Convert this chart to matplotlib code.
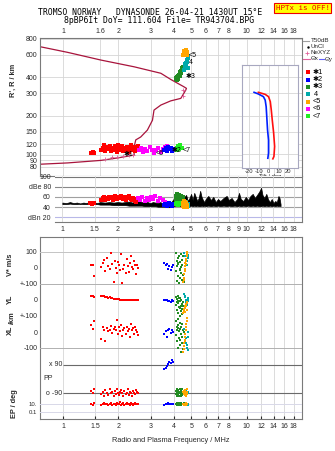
import matplotlib
matplotlib.use('Agg')
import matplotlib.pyplot as plt
from matplotlib.ticker import NullLocator

plt.rcParams['font.family'] = ['Liberation Sans', 'DejaVu Sans']
plt.rcParams['font.size'] = 5

# ---- data ----
freq_ticks_top = [1, 1.6, 2, 3, 4, 5, 6, 7, 8, 10, 12, 14, 16, 18]
freq_ticks_mid = [1, 1.5, 2, 3, 4, 5, 6, 7, 8, 9, 10, 12, 14, 16, 18]
freq_ticks_bot = [1, 1.5, 2, 3, 4, 5, 6, 7, 8, 10, 12, 14, 16, 18]
height_ticks = [80, 90, 100, 120, 150, 200, 300, 400, 600, 800]

# real height / plasma frequency profile (with topside)
prof_f = [0.75, 1.06, 1.61, 1.98, 2.44, 2.44, 2.49, 2.65, 2.88, 3.07, 3.13, 3.41, 3.86,
          4.38, 4.66, 4.70, 4.56, 3.86, 3.41, 2.44, 1.61, 1.06, 0.75]
prof_h = [84, 86, 90, 94, 99, 115, 130, 137, 155, 185, 222, 243, 262,
          274, 318, 328, 337, 385, 430, 483, 545, 626, 693]
nexyz_f = [1.70, 1.85, 1.98, 2.12, 2.28, 2.40, 4.48, 4.52]
nexyz_h = [93, 95, 96, 97, 99, 100, 318, 285]

# echo 1 (red)
r_f = [1.42, 1.45, 1.48, 1.62, 1.66, 1.68, 1.70, 1.73, 1.76, 1.80, 1.83, 1.86, 1.89, 1.92, 1.95, 1.98, 2.00, 2.01,
       2.04, 2.07, 2.10, 2.13, 2.16, 2.19, 2.22, 2.25, 2.28, 2.31, 2.34, 2.37, 2.40, 2.43, 2.46, 2.49, 2.52, 2.55]
r_h = [103, 105, 102, 108, 112, 118, 106, 115, 110, 117, 107, 113, 109, 116, 111, 105, 119, 108,
       114, 110, 117, 106, 112, 109, 115, 111, 104, 113, 118, 108, 110, 114, 106, 112, 109, 116]
r_db = [48, 47, 49, 55, 57, 59, 54, 58, 56, 60, 57, 59, 55, 61, 58, 56, 60, 57,
        59, 62, 58, 56, 60, 57, 55, 59, 58, 61, 57, 56, 54, 58, 55, 52, 50, 56]
r_v = [15, 20, -50, 5, 30, 50, -20, 60, 10, -10, 90, 25, -85, 45, 0, -30, 35, 15,
       -15, 85, -95, -5, 20, -35, 55, 10, -25, 30, 70, 5, -10, 45, 15, -40, 20, 0]
r_yl = [22, 25, 20, 28, 24, 22, 20, 18, 15, 16, 12, 10, 9, 8, 6, 5, 4, 4,
        3, 2, 1, 0, -1, 0, -2, -1, 0, -3, -2, -1, 0, -2, -3, -1, -2, 0]
r_xl = [45, 20, 70, -45, 30, 10, -60, 25, 5, 15, 40, -5, 20, 35, 10, 75, -15, 30,
        5, 45, -25, 15, 25, -10, 35, 5, 20, -30, 50, 10, 25, -15, 30, 15, 0, -20]
r_pp = [-80, -95, -70, -100, -85, -110, -75, -90, -105, -65, -95, -85, -115, -80, -100, -70, -90, -105,
        -85, -75, -95, -110, -80, -100, -90, -70, -105, -85, -95, -115, -80, -90, -100, -75, -85, -95]
r_ep = [12, 8, 15, 6, 10, 20, 9, 14, 7, 11, 25, 8, 13, 10, 6, 18, 9, 12,
        30, 8, 11, 15, 7, 10, 22, 9, 13, 8, 16, 10, 6, 12, 19, 9, 11, 14]

# echo 2 (blue)
b_f = [3.55, 3.62, 3.68, 3.74, 3.80, 3.86, 3.92, 3.98]
b_h = [108, 112, 106, 115, 110, 113, 107, 111]
b_db = [44, 46, 43, 45, 48, 44, 42, 46]
b_v = [30, 15, 25, -5, 10, -15, 5, 20]
b_yl = [2, -3, 0, -8, -5, -12, -2, -6]
b_xl = [-10, 5, -30, 15, 20, -5, 10, 0]
b_pp = [60, 70, 85, 95, 110, 100, 120, 105]
b_ep = [8, 12, 10, 15, 9, 11, 14, 10]

# echo 3 (green)
g_f = [4.12, 4.14, 4.15, 4.17, 4.19, 4.21, 4.23, 4.25, 4.27, 4.29, 4.31, 4.33,
       4.35, 4.37, 4.39, 4.41, 4.43, 4.45, 4.47, 4.49, 4.51, 4.53, 4.22, 4.33]
g_h = [385, 392, 380, 400, 395, 410, 388, 405, 420, 415, 430, 425,
       440, 435, 450, 445, 460, 455, 470, 465, 480, 475, 398, 412]
g_db = [48, 55, 62, 50, 58, 65, 52, 60, 47, 56, 63, 50, 58, 46, 54, 61, 49, 57, 52, 60, 48, 55, 64, 51]
g_v = [90, -20, 40, -80, 10, 60, -50, 25, -95, 75, -10, 35, -60, 5, 85, -35, 50, -75, 15, -45, 70, -90, 30, -15]
g_yl = [20, -30, 5, -60, -10, 25, -80, -20, 10, -45, -5, -100, 15, -35, -70, 0, -55, -25, -90, -15, -40, -65, -8, -50]
g_xl = [70, -20, 30, -60, 10, 80, -100, 45, -40, 5, 60, -80, 20, -130, 35, -10, -70, 50, -30, 15, -110, 0, 25, -50]
g_pp = [-80, -100, -70, -95, -110, -85, -75, -105, -90, -115, -65, -95, -85, -100, -80, -110, -90, -70, -105, -95, -85, -100, -75, -90]
g_ep = [10, 14, 8, 12, 20, 9, 11, 16, 7, 13, 10, 18, 9, 12, 15, 8, 11, 10, 14, 9, 12, 17, 10, 8]

# echo 4 (cyan)
c_f = [4.58, 4.62, 4.66, 4.70, 4.74, 4.78, 4.82, 4.64, 4.72, 4.80]
c_h = [460, 480, 500, 520, 545, 565, 585, 510, 530, 475]
c_db = [45, 48, 44, 50, 46, 43, 47, 49, 45, 44]
c_v = [90, 70, 55, 40, 20, 60, 80, 30, 45, 65]
c_yl = [40, 20, 0, -15, -30, 10, -5, 25, -20, 5]
c_xl = [20, -10, -40, -70, -100, -115, -30, -60, -85, 0]
c_pp = [-88, -95, -80, -100, -90, -85, -92, -78, -96, -86]
c_ep = [10, 12, 9, 14, 11, 8, 13, 10, 12, 9]

# echo 5 (orange)
o_f = [4.50, 4.53, 4.55, 4.57, 4.59, 4.61, 4.63, 4.65, 4.67, 4.69, 4.71, 4.73, 4.75, 4.60]
o_h = [600, 615, 630, 645, 620, 605, 640, 625, 650, 610, 598, 635, 612, 628]
o_db = [42, 48, 45, 52, 40, 47, 44, 50, 43, 46, 49, 41, 45, 51]
o_v = [-90, -75, -60, -40, -20, -5, 10, 25, 40, 55, 70, 85, 100, 30]
o_yl = [-80, -70, -65, -55, -50, -45, -40, -35, -30, -25, -20, -60, -15, -75]
o_xl = [-125, -110, -90, -70, -50, -30, -10, 10, 30, 50, 70, 90, 110, -60]
o_pp = [-85, -95, -80, -100, -90, -75, -105, -88, -92, -110, -70, -98, -84, -95]
o_ep = [10, 12, 8, 14, 11, 9, 13, 10, 15, 8, 12, 10, 9, 11]

# echo 6 (magenta) and 7 (lime) - height / amplitude only
m_f = [2.58, 2.65, 2.72, 2.80, 2.88, 2.96, 3.04, 3.12, 3.20, 3.30, 3.40, 3.50, 3.60, 3.70]
m_h = [108, 112, 104, 110, 106, 114, 108, 103, 109, 112, 105, 110, 114, 116]
m_db = [58, 55, 60, 52, 57, 54, 59, 56, 61, 53, 58, 55, 50, 48]
l_f = [4.15, 4.20, 4.25, 4.30, 4.36, 4.42]
l_h = [108, 113, 116, 110, 118, 112]
l_db = [46, 48, 45, 47, 49, 46]

# receiver amplitude / noise trace (dB)
noise_f = [1.00, 1.05, 1.10, 1.15, 1.20, 1.25, 1.30, 1.35, 1.40, 1.45, 1.50, 1.55, 1.60, 1.70, 1.80, 1.90, 2.00, 2.10,
           2.20, 2.30, 2.40, 2.50, 2.60, 2.70, 2.80, 2.90, 3.00, 3.10, 3.20, 3.30, 3.40, 3.50, 3.60, 3.70, 3.80, 3.90,
           4.00, 4.10, 4.20, 4.30, 4.40, 4.50, 4.60, 4.70, 4.80, 4.90, 5.00, 5.10, 5.20, 5.30, 5.40, 5.50, 5.60, 5.70,
           5.80, 5.90, 6.00, 6.20, 6.40, 6.60, 6.80, 7.00, 7.20, 7.50, 7.80, 8.00, 8.30, 8.60, 8.90, 9.10, 9.30, 9.60,
           9.90, 10.2, 10.5, 10.8, 11.1, 11.4, 11.7, 12.0, 12.2, 12.5, 12.8, 13.1, 13.4, 13.7, 14.0, 14.3, 14.6, 14.9,
           15.1, 15.3]
noise_top = [49, 48, 50, 48, 49, 47, 49, 48, 50, 48, 49, 48, 50, 49, 50, 49, 50, 49,
             50, 51, 49, 50, 52, 50, 49, 50, 48, 50, 49, 48, 50, 47, 48, 46, 47, 50,
             55, 62, 66, 52, 58, 50, 60, 64, 52, 58, 66, 54, 68, 60, 52, 58, 72, 60,
             54, 50, 56, 62, 54, 60, 50, 56, 52, 58, 62, 54, 58, 50, 56, 68, 56, 52,
             60, 54, 62, 66, 58, 64, 70, 78, 64, 58, 66, 55, 50, 56, 48, 52, 50, 62,
             58, 46]
noise_low = [46, 46, 47, 46, 46, 47, 46, 46, 47, 46, 46, 46, 45, 45, 45, 44, 44, 44,
             44, 43, 43, 43, 43, 43, 42, 42, 42, 42, 42, 41, 41, 41, 41, 40, 40, 41,
             42, 43, 42, 43, 42, 43, 42, 42, 43, 42, 43, 42, 43, 42, 43, 42, 42, 43,
             42, 43, 42, 43, 42, 43, 42, 43, 42, 43, 42, 43, 42, 43, 42, 43, 42, 43,
             42, 43, 42, 43, 42, 43, 42, 42, 43, 42, 43, 42, 43, 42, 43, 42, 43, 42,
             43, 42]

# tilt inset
tiltx_deg = [-10.3, -3.4, 0, 1.8, 2.8, 3.8, 5.2, 6.2, 5.5, 4.4]
tiltx_h = [305, 294, 282, 258, 222, 185, 147, 115, 96, 92]
tilty_deg = [-14.7, -10.3, -5.2, -3.4, -2.4, -1.8, -1.0, 0, 0, -0.7]
tilty_h = [305, 296, 282, 265, 235, 197, 155, 129, 102, 93]

COL = {1: '#ff0000', 2: '#0000ff', 3: '#228b22', 4: '#00aaaa',
       5: '#ffa500', 6: '#ff00ff', 7: '#22ee22'}
GRID = '#d6d6d6'
SPINE = '#7a7a7a'
TXT = '#2a2a2a'
PROF = '#a8143c'

W, H = 335, 451


def box(x0, y0, x1, y1):
    return [x0 / W, 1 - y1 / H, (x1 - x0) / W, (y1 - y0) / H]


def freq_axis(ax, lo=0.75):
    ax.set_xscale('log')
    ax.set_xlim(lo, 20)
    ax.xaxis.set_minor_locator(NullLocator())
    for s in ax.spines.values():
        s.set_color(SPINE)
        s.set_linewidth(0.8)


def dots(ax, x, y, c, ms=1.9):
    ax.plot(x, y, 's', color=c, ms=ms, mew=0, ls='none')


fig = plt.figure(figsize=(W / 100, H / 100), dpi=100)

# ---- height panel ----
ax_h = fig.add_axes(box(40, 38, 302, 176))
freq_axis(ax_h)
ax_h.set_yscale('log')
ax_h.set_ylim(68, 810)
ax_h.yaxis.set_minor_locator(NullLocator())
ax_h.set_yticks(height_ticks)
ax_h.set_yticklabels([str(t) for t in height_ticks])
ax_h.xaxis.tick_top()
ax_h.set_xticks(freq_ticks_top)
ax_h.set_xticklabels([f'{t:g}' for t in freq_ticks_top])
ax_h.tick_params(length=0, pad=2, labelsize=5, colors=TXT)
ax_h.grid(True, color=GRID, lw=0.6)
ax_h.set_axisbelow(True)
ax_h.plot(prof_f, prof_h, color=PROF, lw=0.9)
ax_h.plot(nexyz_f, nexyz_h, '+', color='#e0609a', ms=2.5, mew=0.6)
dots(ax_h, r_f, r_h, COL[1], 2.2)
dots(ax_h, m_f, m_h, COL[6], 2.2)
dots(ax_h, b_f, b_h, COL[2], 2.2)
dots(ax_h, l_f, l_h, COL[7], 2.2)
dots(ax_h, g_f, g_h, COL[3], 2.6)
dots(ax_h, c_f, c_h, COL[4], 2.4)
dots(ax_h, o_f, o_h, COL[5], 2.6)
for txt, f, h in [('✱1', 2.14, 100), ('<6', 3.2, 101), ('✱2', 3.9, 107), ('<7', 4.5, 107),
                  ('✱3', 4.66, 409), ('4', 4.85, 520), ('<5', 4.85, 595)]:
    ax_h.text(f, h, txt, fontsize=5, ha='left', va='center', color='k')

# tilt inset
ax_t = fig.add_axes(box(242, 65, 298, 168))
ax_t.set_yscale('log')
ax_t.set_ylim(78, 499)
ax_t.set_xlim(-27, 30)
ax_t.yaxis.set_minor_locator(NullLocator())
ax_t.set_yticks([100, 150, 200, 300, 400])
ax_t.set_yticklabels([])
ax_t.set_xticks([-20, -10, 0, 10, 20])
ax_t.set_xticklabels(['-20', '-10', '0', '10', '20'])
ax_t.tick_params(length=0, pad=1, labelsize=4.2, colors=TXT)
ax_t.set_xlabel('Tilt / deg', fontsize=4.2, labelpad=0, color=TXT)
ax_t.grid(True, color=GRID, lw=0.6)
for s in ax_t.spines.values():
    s.set_color('#a8a8c0')
ax_t.plot(tilty_deg, tilty_h, color='#0020ff', lw=1.2)
ax_t.plot(tiltx_deg, tiltx_h, color='#ff1010', lw=1.2)

# ---- amplitude panel ----
ax_db = fig.add_axes(box(55, 176, 302, 222))
freq_axis(ax_db, 0.912)
ax_db.set_ylim(11, 101)
ax_db.spines['left'].set_visible(False)
ax_db.spines['top'].set_visible(False)
ax_db.set_yticks([100, 80, 60, 40, 20])
ax_db.set_yticklabels(['100', 'dBe 80', '60', '40', 'dBn 20'])
ax_db.set_xticks(freq_ticks_mid)
ax_db.set_xticklabels([f'{t:g}' for t in freq_ticks_mid])
ax_db.tick_params(length=0, pad=3, labelsize=5, colors=TXT)
ax_db.grid(True, axis='x', color=GRID, lw=0.6)
for lvl, c in [(100, '#777777'), (80, '#888888'), (60, '#a0a0a0'), (40, '#a0a0a0'), (20, '#b8b8e8')]:
    ax_db.axhline(lvl, color=c, lw=0.8, zorder=1)
ax_db.fill_between(noise_f, noise_low, noise_top, color='k', lw=0.5, zorder=2)
for fx, dy, k in [(r_f, r_db, 1), (m_f, m_db, 6), (b_f, b_db, 2), (g_f, g_db, 3),
                  (l_f, l_db, 7), (c_f, c_db, 4), (o_f, o_db, 5)]:
    ax_db.plot(fx, dy, 's', color=COL[k], ms=2.2, mew=0, zorder=3)

# ---- doppler / location / polarisation frame ----
ax_low = fig.add_axes(box(40, 237, 302, 419))
freq_axis(ax_low)
ax_low.set_ylim(0, 1)
ax_low.set_yticks([])
ax_low.set_xticks(freq_ticks_bot)
ax_low.set_xticklabels([f'{t:g}' for t in freq_ticks_bot])
ax_low.tick_params(axis='x', direction='in', length=2, pad=3, labelsize=5, colors=TXT)
ax_low.grid(True, axis='x', color=GRID, lw=0.6)
ax_low.set_xlabel('Radio and Plasma Frequency / MHz', fontsize=5.3, labelpad=5, color=TXT)

subs = []
for (y0, y1, lim) in [(237, 284, (-100, 190)), (284, 316, (-100, 100)), (316, 352, (-127, 102)),
                      (352, 401, (-145, 173))]:
    a = fig.add_axes(box(40, y0, 302, y1))
    a.set_xscale('log')
    a.set_xlim(0.75, 20)
    a.xaxis.set_minor_locator(NullLocator())
    a.set_ylim(*lim)
    a.patch.set_alpha(0)
    for s in a.spines.values():
        s.set_visible(False)
    a.set_xticks([])
    a.tick_params(length=0, pad=2, labelsize=5, colors=TXT)
    subs.append(a)
ax_v, ax_yl, ax_xl, ax_pp = subs

ax_ep = fig.add_axes(box(40, 401, 302, 419))
ax_ep.set_xscale('log')
ax_ep.set_xlim(0.75, 20)
ax_ep.xaxis.set_minor_locator(NullLocator())
ax_ep.set_yscale('log')
ax_ep.set_ylim(1.85e-3, 63)
ax_ep.yaxis.set_minor_locator(NullLocator())
ax_ep.patch.set_alpha(0)
for s in ax_ep.spines.values():
    s.set_visible(False)
ax_ep.set_xticks([])
ax_ep.set_yticks([10, 0.1])
ax_ep.set_yticklabels(['10.', '0.1'])
ax_ep.tick_params(length=0, pad=2, labelsize=4.3, colors=TXT)
ax_ep.axhline(10, color='#d8d8e8', lw=0.7, zorder=0)
ax_ep.axhline(0.1, color='#d8d8e8', lw=0.7, zorder=0)

ax_v.set_yticks([100, 0, -100])
ax_v.set_yticklabels(['100', '0', '+-100'])
ax_yl.set_yticks([0, -100])
ax_yl.set_yticklabels(['0', '+-100'])
ax_xl.set_yticks([0, -100])
ax_xl.set_yticklabels(['0', '-100'])
ax_pp.set_yticks([])
ax_v.axhline(100, color='#c4c4c4', lw=0.7, zorder=0)
ax_yl.axhline(100, color='#b0b0b0', lw=0.7, zorder=0)
ax_yl.axhline(-100, color='#b0b0b0', lw=0.7, zorder=0)
ax_xl.axhline(-100, color='#b0b0b0', lw=0.7, zorder=0)
ax_pp.hlines([90, -90], 1.0, 20, color='#6a6a6a', lw=0.8, zorder=0)

for k, fx, v, yl, xl, pp, ep in [(1, r_f, r_v, r_yl, r_xl, r_pp, r_ep),
                                 (2, b_f, b_v, b_yl, b_xl, b_pp, b_ep),
                                 (3, g_f, g_v, g_yl, g_xl, g_pp, g_ep),
                                 (4, c_f, c_v, c_yl, c_xl, c_pp, c_ep),
                                 (5, o_f, o_v, o_yl, o_xl, o_pp, o_ep)]:
    dots(ax_v, fx, v, COL[k])
    dots(ax_yl, fx, yl, COL[k])
    dots(ax_xl, fx, xl, COL[k])
    dots(ax_pp, fx, pp, COL[k])
    dots(ax_ep, fx, ep, COL[k])

# ---- overlay: titles, side labels, legend ----
ov = fig.add_axes([0, 0, 1, 1])
ov.set_xlim(0, W)
ov.set_ylim(H, 0)
ov.axis('off')
mono = 'DejaVu Sans Mono'
ov.text(150, 12.5, 'TROMSO NORWAY   DYNASONDE 26-04-21 1430UT 15°E', family=mono,
        fontsize=5.9, ha='center', va='center', color='k')
ov.text(159, 20.5, '8pBP6It DoY= 111.604 File= TR943704.BPG', family=mono,
        fontsize=5.9, ha='center', va='center', color='k')
ov.text(302.5, 8.3, 'HPTx is OFF!', family=mono, fontsize=5.4, ha='center', va='center', color='#ee0000',
        bbox=dict(boxstyle='square,pad=0.25', fc='#ffff00', ec='#ee0000', lw=0.8))

side = dict(rotation=90, ha='center', va='center', fontsize=5.3, color=TXT, fontweight='bold')
ov.text(13, 80, "R', R / km", **side)
ov.text(10, 265, 'V* m/s', **side)
ov.text(10, 299, 'YL', **side)
ov.text(12, 318, '/km', **side)
ov.text(10, 330, 'XL', **side)
ov.text(14, 404, 'EP / deg', **side)
ov.text(62, 365, 'x 90', ha='right', va='center', fontsize=5, color=TXT)
ov.text(62, 393.3, 'o -90', ha='right', va='center', fontsize=5, color=TXT)
ov.text(43, 379, 'PP', ha='left', va='center', fontsize=5, color=TXT)

# legend
ov.plot([303, 309], [41, 41], color='#a0a0a0', lw=0.8)
ov.text(310.5, 41, 'T50dB', fontsize=4.5, va='center', color=TXT)
ov.plot([308], [47], '.', color='k', ms=1.5)
ov.text(310.5, 47, 'UnCl', fontsize=4.5, va='center', color=TXT)
ov.plot([307], [53], '+', color='#e0609a', ms=3, mew=0.6)
ov.text(310.5, 53, 'NeXYZ', fontsize=4.5, va='center', color=TXT)
ov.plot([303, 310], [59, 59], color='#e0609a', lw=0.8)
ov.text(310.5, 59, 'Θx', fontsize=4.5, va='center', color=TXT)
ov.plot([319, 324], [59, 59], color='#6060ff', lw=0.8)
ov.text(324.5, 59, 'Θy', fontsize=4.5, va='center', color=TXT)
leg_labels = ['✱1', '✱2', '✱3', ' 4', '<5', '<6', '<7']
for i, lab in enumerate(leg_labels):
    yy = 72.3 + i * 7.33
    ov.plot([307.7], [yy], 's', color=COL[i + 1], ms=2.6, mew=0)
    ov.text(312.5, yy, lab, fontsize=5.2, va='center', color='k')

fig.savefig('out.png', dpi=100)
